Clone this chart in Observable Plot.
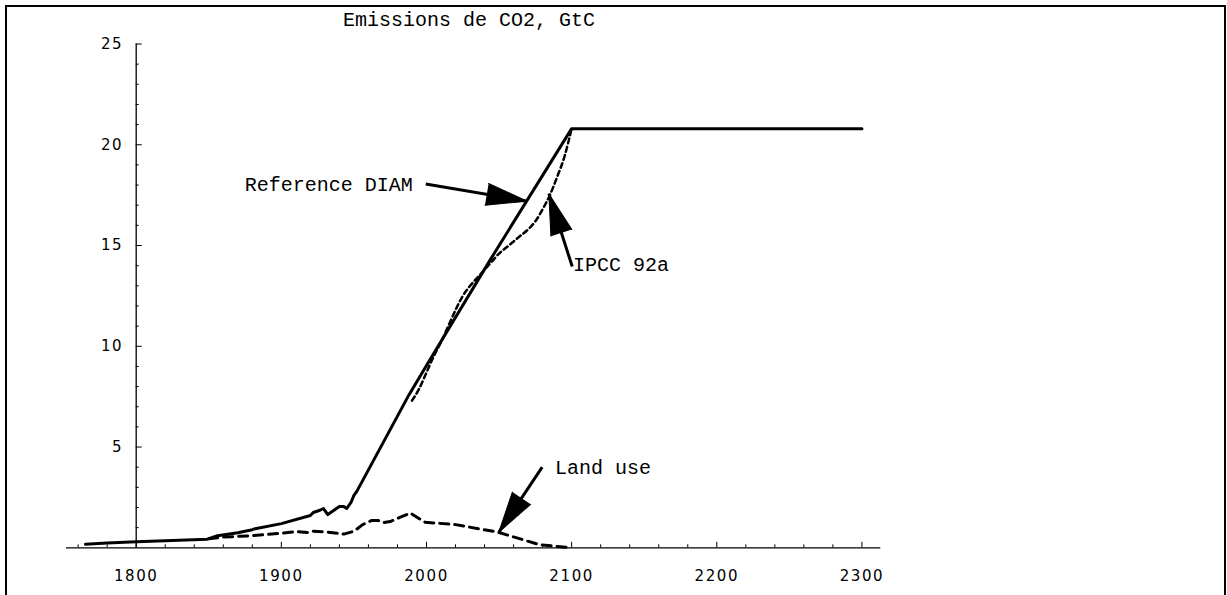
<!DOCTYPE html>
<html><head><meta charset="utf-8">
<script src="https://cdn.jsdelivr.net/npm/d3@7"></script>
<script src="https://cdn.jsdelivr.net/npm/@observablehq/plot@0.6"></script>
<style>
body{margin:0;background:#fff;}
#wrap{position:relative;width:1227px;height:595px;overflow:hidden;background:#fff;}
#frame{position:absolute;left:5px;top:5px;width:1221px;height:640px;border:2px solid #000;box-sizing:border-box;pointer-events:none;}
#title{position:absolute;left:343px;top:11px;font-family:"Liberation Mono",monospace;font-size:20px;line-height:20px;color:#000;white-space:pre;}
#chart{position:absolute;left:0;top:0;}
#chart g[aria-label$="tick label"]{letter-spacing:1.6px;}
</style></head>
<body><div id="wrap"><div id="frame"></div><div id="title">Emissions de CO2, GtC</div><div id="chart"></div></div>
<script>
// ---- data ----
const diamYears = [1765,1780,1800,1820,1849,1852,1856,1870,1880,1882,1900,1920,1922,1926,1929,1932,1936,1940,1943,1945,1948,1950,1952,1988,2000,2044,2100,2300];
const diamValues = [0.18,0.24,0.30,0.35,0.43,0.50,0.60,0.75,0.90,0.95,1.20,1.60,1.75,1.85,1.95,1.65,1.85,2.05,2.05,1.95,2.25,2.60,2.80,7.60,9.05,14.30,20.80,20.80];
const ipccYears = [1990,1995,2000,2005,2010,2015,2020,2025,2030,2035,2040,2045,2050,2055,2060,2065,2070,2075,2080,2085,2090,2095,2100];
const ipccValues = [7.3,7.9,8.7,9.5,10.2,11.0,11.8,12.5,13.0,13.4,13.8,14.2,14.6,14.9,15.2,15.5,15.8,16.2,16.8,17.5,18.4,19.4,20.8];
const landYears = [1850,1860,1880,1900,1910,1918,1922,1932,1943,1950,1956,1962,1967,1970,1975,1982,1989,1999,2020,2049,2078,2100];
const landValues = [0.45,0.53,0.60,0.72,0.80,0.76,0.82,0.78,0.68,0.82,1.15,1.35,1.35,1.25,1.30,1.52,1.72,1.27,1.15,0.78,0.15,0.0];
const xMajor = [1800,1900,2000,2100,2200,2300];
const xMinor = [1760,1780,1820,1840,1860,1880,1920,1940,1960,1980,2020,2040,2060,2080,2120,2140,2160,2180,2220,2240,2260,2280];
const yMajor = [5,10,15,20,25];
const yMinor = [1,2,3,4,6,7,8,9,11,12,13,14,16,17,18,19,21,22,23,24];
const labelNames = ["Reference DIAM","IPCC 92a","Land use"];
const labelYears = [1990.5,2101,2088.5];
const labelValues = [17.7,13.73,3.67];
const labelAnchors = ["end","start","start"];
const arrowTailYears = [1999.5,2100.4,2079.7];
const arrowTailValues = [18.05,13.96,4.0];
const arrowTipYears = [2069.4,2084.3,2049.8];
const arrowTipValues = [17.2,17.57,0.77];

// ---- layout ----
const W = 1227, H = 595, mL = 135.7, mR = 346.7, mT = 43.5, mB = 47.7;
const xDomain = [1800, 2313], yDomain = [0, 25];
const plotW = W - mL - mR, plotH = H - mT - mB;
const kx = plotW / (xDomain[1] - xDomain[0]);
const ky = plotH / (yDomain[1] - yDomain[0]);

const diam = diamYears.map((t, i) => ({t, v: diamValues[i]}));
const ipcc = ipccYears.map((t, i) => ({t, v: ipccValues[i]}));
const land = landYears.map((t, i) => ({t, v: landValues[i]}));
const labels = labelNames.map((s, i) => ({s, t: labelYears[i], v: labelValues[i], a: labelAnchors[i]}));
const arrows = arrowTailYears.map((t, i) => ({
  t1: t, v1: arrowTailValues[i], t2: arrowTipYears[i], v2: arrowTipValues[i],
  rot: Math.atan2((arrowTipYears[i] - t) * kx, (arrowTipValues[i] - arrowTailValues[i]) * ky) * 180 / Math.PI
}));

const font = "DejaVu Sans";
const mono = "Liberation Mono";

const chart = Plot.plot({
  width: W, height: H,
  marginLeft: mL, marginRight: mR, marginTop: mT, marginBottom: mB,
  style: {background: "transparent", color: "#000", overflow: "visible"},
  x: {domain: xDomain, axis: null},
  y: {domain: yDomain, axis: null},
  marks: [
    Plot.ruleY([0], {x1: 1752, x2: 2313, stroke: "#000", strokeWidth: 1.3}),
    Plot.ruleX([1800], {y1: 0, y2: 25, stroke: "#000", strokeWidth: 1.3}),
    Plot.tickX(xMinor, {x: d => d, insetTop: plotH - 3, stroke: "#000"}),
    Plot.tickX(xMajor, {x: d => d, insetTop: plotH - 5.5, stroke: "#000"}),
    Plot.tickY(yMinor, {y: d => d, insetRight: plotW - 3, stroke: "#000"}),
    Plot.tickY(yMajor, {y: d => d, insetRight: plotW - 6, stroke: "#000"}),
    Plot.axisX(xMajor, {tickSize: 0, tickPadding: 23, label: null, fontSize: 15, fontFamily: font, tickFormat: d => String(d)}),
    Plot.axisY(yMajor, {tickSize: 0, tickPadding: 13, label: null, fontSize: 15, fontFamily: font, tickFormat: d => String(d)}),
    Plot.line(land, {x: "t", y: "v", stroke: "#000", strokeWidth: 3, strokeDasharray: "9,6"}),
    Plot.line(ipcc, {x: "t", y: "v", stroke: "#000", strokeWidth: 2.5, strokeDasharray: "5,3.5", curve: "monotone-x"}),
    Plot.line(diam, {x: "t", y: "v", stroke: "#000", strokeWidth: 3}),
    Plot.link(arrows, {x1: "t1", y1: "v1", x2: "t2", y2: "v2", stroke: "#000", strokeWidth: 3}),
    Plot.vector(arrows, {x: "t2", y: "v2", rotate: "rot", length: 41, r: 11, shape: "spike", anchor: "end", fill: "#000", stroke: "#000", strokeWidth: 1}),
    Plot.text(labels, {x: "t", y: "v", text: "s", textAnchor: "start", lineAnchor: "bottom", fontSize: 20, fontFamily: mono, fill: "#000", filter: d => d.a === "start"}),
    Plot.text(labels, {x: "t", y: "v", text: "s", textAnchor: "end", lineAnchor: "bottom", fontSize: 20, fontFamily: mono, fill: "#000", filter: d => d.a === "end"})
  ]
});
document.getElementById("chart").appendChild(chart);
</script>
</body></html>
